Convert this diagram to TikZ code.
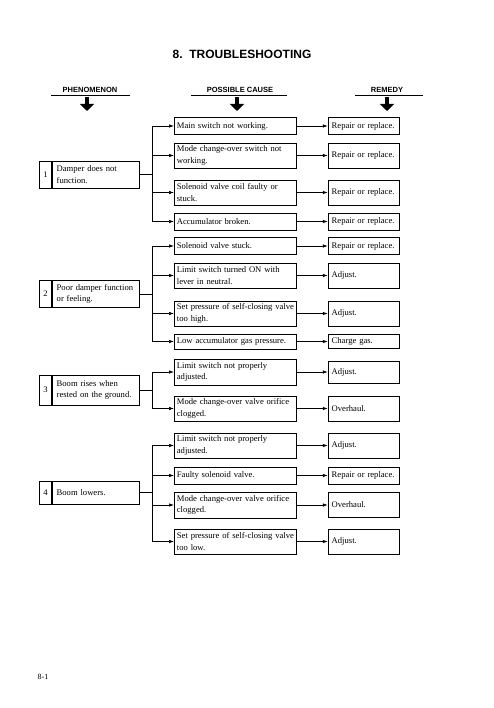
\documentclass[tikz,border=0pt]{standalone}
\usepackage{fontspec}
\setmainfont{Liberation Serif}
\newfontfamily\headfont{Liberation Sans}
\usetikzlibrary{positioning,arrows.meta}

\tikzset{
  boxtext/.style={font=\fontsize{8.6}{11.5}\selectfont},
  numbox/.style={draw,line width=0.8pt,boxtext,minimum width=12pt,minimum height=27pt,inner sep=0pt,anchor=west},
  phenbox/.style={draw,line width=0.8pt,boxtext,text width=78pt,inner xsep=4.5pt,inner ysep=0pt,minimum height=27pt,align=left},
  causebox/.style={draw,line width=0.8pt,boxtext,text width=117pt,inner xsep=2.5pt,inner ysep=0pt,minimum height=17pt,align=left,anchor=west},
  remedybox/.style={draw,line width=0.8pt,boxtext,text width=64pt,inner xsep=3.5pt,inner ysep=0pt,minimum height=17pt,align=left},
  tall/.style={minimum height=25pt},
  link/.style={line width=0.7pt,-{Latex[length=5pt,width=3.5pt]}},
  branch/.style={line width=0.7pt},
  bigarrow/.style={line width=4.5pt,-{Triangle[width=14pt,length=7pt]}},
  heading/.style={font=\headfont\bfseries\fontsize{7.5}{9}\selectfont},
}

\begin{document}
\begin{tikzpicture}[x=1pt,y=-1pt]
\useasboundingbox (0,0) rectangle (493,708);

% title and column heads
\node[font=\headfont\bfseries\fontsize{12}{14}\selectfont] (title) at (242,54) {8.~~TROUBLESHOOTING};
\node[heading] (hphen) at (90,90) {PHENOMENON};
\node[heading] (hcause) at (240,90) {POSSIBLE CAUSE};
\node[heading] (hrem) at (387,90) {REMEDY};
\draw[line width=0.7pt] (51,95) -- (130,95);
\draw[line width=0.7pt] (191,95) -- (287,95);
\draw[line width=0.7pt] (355,95) -- (423,95);
\draw[bigarrow] (87,97) -- (87,111);
\draw[bigarrow] (237,97) -- (237,111);
\draw[bigarrow] (387,97) -- (387,111);

% phenomena
\node[numbox] (n1) at (39,174.5) {1};
\node[phenbox,right=0pt of n1] (p1) {Damper does not\\function.};
\node[numbox] (n2) at (39,294) {2};
\node[phenbox,right=0pt of n2] (p2) {Poor damper function\\or feeling.};
\node[numbox,minimum height=30pt] (n3) at (39,390) {3};
\node[phenbox,minimum height=30pt,right=0pt of n3] (p3) {Boom rises when\\rested on the ground.};
\node[numbox,minimum height=23pt] (n4) at (39,492.5) {4};
\node[phenbox,minimum height=23pt,right=0pt of n4] (p4) {Boom lowers.};

% possible causes
\node[causebox] (c1) at (174,126) {Main switch not working.};
\node[causebox,tall] (c2) at (174,155.5) {Mode change-over switch not\\working.};
\node[causebox,tall] (c3) at (174,192.5) {Solenoid valve coil faulty or\\stuck.};
\node[causebox] (c4) at (174,221.5) {Accumulator broken.};
\node[causebox] (c5) at (174,246) {Solenoid valve stuck.};
\node[causebox,tall] (c6) at (174,275.5) {Limit switch turned ON with\\lever in neutral.};
\node[causebox,tall] (c7) at (174,313.5) {\mbox{Set pressure of self-closing valve}\\too high.};
\node[causebox,minimum height=15pt] (c8) at (174,341.5) {Low accumulator gas pressure.};
\node[causebox,minimum height=26pt] (c9) at (174,372) {Limit switch not properly\\adjusted.};
\node[causebox,tall] (c10) at (174,408.5) {Mode change-over valve orifice\\clogged.};
\node[causebox,tall] (c11) at (174,445.5) {Limit switch not properly\\adjusted.};
\node[causebox] (c12) at (174,475.5) {Faulty solenoid valve.};
\node[causebox,minimum height=26pt] (c13) at (174,505) {Mode change-over valve orifice\\clogged.};
\node[causebox,tall] (c14) at (174,541.5) {\mbox{Set pressure of self-closing valve}\\too low.};

% remedies
\node[remedybox,right=31pt of c1] (r1) {Repair or replace.};
\node[remedybox,tall,right=31pt of c2] (r2) {Repair or replace.};
\node[remedybox,tall,right=31pt of c3] (r3) {Repair or replace.};
\node[remedybox,right=31pt of c4] (r4) {Repair or replace.};
\node[remedybox,right=31pt of c5] (r5) {Repair or replace.};
\node[remedybox,tall,right=31pt of c6] (r6) {Adjust.};
\node[remedybox,tall,right=31pt of c7] (r7) {Adjust.};
\node[remedybox,minimum height=14pt,right=31pt of c8] (r8) {Charge gas.};
\node[remedybox,minimum height=22pt,right=31pt of c9] (r9) {Adjust.};
\node[remedybox,tall,right=31pt of c10] (r10) {Overhaul.};
\node[remedybox,tall,right=31pt of c11] (r11) {Adjust.};
\node[remedybox,right=31pt of c12] (r12) {Repair or replace.};
\node[remedybox,tall,right=31pt of c13] (r13) {Overhaul.};
\node[remedybox,tall,right=31pt of c14] (r14) {Adjust.};

% branching
\coordinate (b1) at (152,174.5);
\coordinate (b2) at (152,294);
\coordinate (b3) at (152,390);
\coordinate (b4) at (152,492.5);
\draw[branch] (p1) -- (b1);
\draw[branch] (p2) -- (b2);
\draw[branch] (p3) -- (b3);
\draw[branch] (p4) -- (b4);
\draw[branch] (b1 |- c1) -- (b1 |- c4);
\draw[branch] (b2 |- c5) -- (b2 |- c8);
\draw[branch] (b3 |- c9) -- (b3 |- c10);
\draw[branch] (b4 |- c11) -- (b4 |- c14);
\foreach \c in {c1,c2,c3,c4} \draw[link] (b1 |- \c) -- (\c);
\foreach \c in {c5,c6,c7,c8} \draw[link] (b2 |- \c) -- (\c);
\foreach \c in {c9,c10} \draw[link] (b3 |- \c) -- (\c);
\foreach \c in {c11,c12,c13,c14} \draw[link] (b4 |- \c) -- (\c);
\foreach \i in {1,...,14} \draw[link] (c\i) -- (r\i);

% page number
\node[font=\fontsize{8}{10}\selectfont] (page) at (43,677) {8-1};
\end{tikzpicture}
\end{document}
